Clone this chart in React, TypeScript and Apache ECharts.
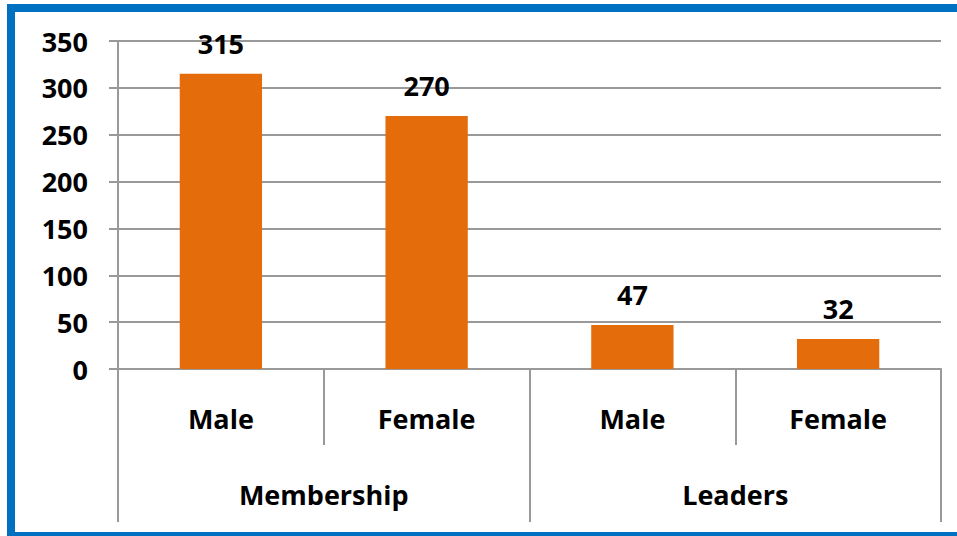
import React, { useEffect, useRef } from "react";
import * as echarts from "echarts";

const categories = ["Male", "Female", "Male", "Female"];
const groups = ["Membership", "Leaders"];
const values = [315, 270, 47, 32];
const yTicks = { min: 0, max: 350, interval: 50 };

const FONT = "'Open Sans', 'Noto Sans', sans-serif";
const GRID_COLOR = "#999999";

export default function App() {
  const ref = useRef<HTMLDivElement>(null);
  useEffect(() => {
    if (!ref.current) return;
    const chart = echarts.init(ref.current, null, { renderer: "svg" });
    const labelStyle = {
      fontFamily: FONT,
      fontWeight: "bold" as const,
      fontSize: 27,
      color: "#000",
    };
    chart.setOption({
      animation: false,
      backgroundColor: "#fff",
      grid: { left: 118, right: 16, top: 41, bottom: 167, containLabel: false },
      graphic: [
        {
          type: "rect",
          shape: { x: 11, y: 8, width: 980, height: 528 },
          style: { fill: "none", stroke: "#0070C0", lineWidth: 8 },
          z: 100,
        },
      ],
      xAxis: [
        {
          type: "category",
          data: categories,
          position: "bottom",
          axisLine: { show: true, lineStyle: { color: GRID_COLOR, width: 2 } },
          axisTick: { show: true, length: 76, interval: 0, lineStyle: { color: GRID_COLOR, width: 2 } },
          axisLabel: { ...labelStyle, margin: 36, interval: 0 },
        },
        {
          type: "category",
          data: groups,
          position: "bottom",
          axisLine: { show: false },
          axisTick: { show: true, length: 153, interval: 0, lineStyle: { color: GRID_COLOR, width: 2 } },
          axisLabel: { ...labelStyle, margin: 112, interval: 0 },
        },
      ],
      yAxis: {
        type: "value",
        min: yTicks.min,
        max: yTicks.max,
        interval: yTicks.interval,
        axisLine: { show: true, lineStyle: { color: GRID_COLOR, width: 2 } },
        axisTick: { show: true, length: 9, lineStyle: { color: GRID_COLOR, width: 2 } },
        splitLine: { show: true, lineStyle: { color: GRID_COLOR, width: 2 } },
        axisLabel: { ...labelStyle, margin: 30 },
      },
      series: [
        {
          type: "bar",
          xAxisIndex: 0,
          data: values,
          barWidth: "40%",
          itemStyle: { color: "#E46C0A" },
          label: {
            show: true,
            position: "top",
            distance: 17,
            ...labelStyle,
          },
        },
      ],
    });
    return () => chart.dispose();
  }, []);
  return (
    <div
      ref={ref}
      style={{ position: "absolute", left: 0, top: 0, width: 957, height: 536 }}
    />
  );
}
